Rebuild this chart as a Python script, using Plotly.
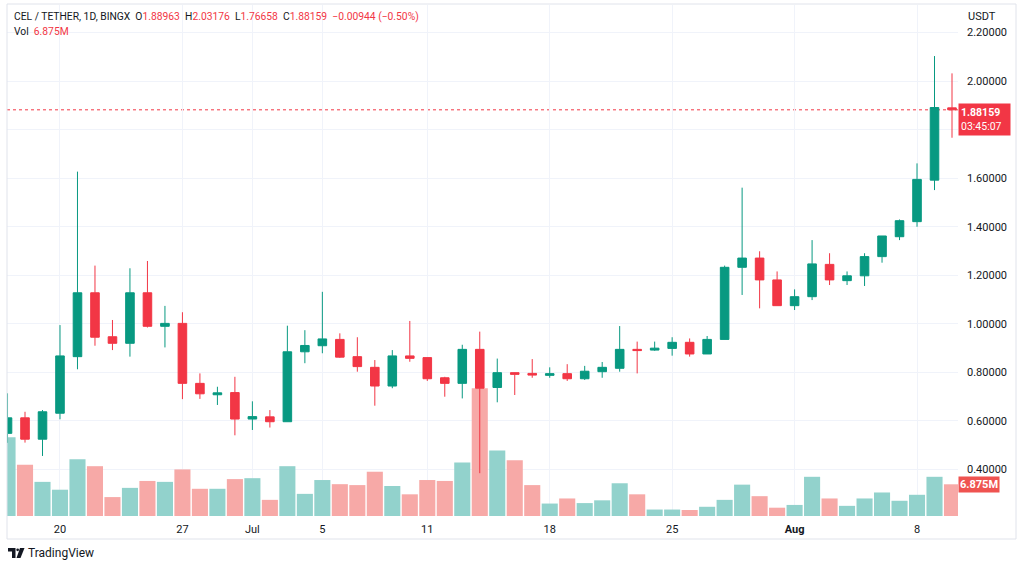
import plotly.graph_objects as go
import pandas as pd

# ---------------- data ----------------
dates = pd.date_range("2022-06-17", "2022-08-10", freq="D")

opens = [0.549, 0.613, 0.525, 0.632, 0.865, 1.128, 0.947, 0.920, 1.128, 0.990,
         1.002, 0.755, 0.708, 0.717, 0.608, 0.617, 0.597, 0.885, 0.910, 0.936,
         0.865, 0.821, 0.744, 0.868, 0.861, 0.778, 0.755, 0.895, 0.738, 0.799,
         0.796, 0.788, 0.795, 0.774, 0.803, 0.817, 0.895, 0.892, 0.899, 0.924,
         0.876, 0.936, 1.233, 1.271, 1.181, 1.075, 1.112, 1.245, 1.178, 1.198,
         1.277, 1.359, 1.421, 1.592, 1.88963]
highs = [0.714, 0.638, 0.645, 0.995, 1.627, 1.240, 1.016, 1.229, 1.259, 1.074,
         1.048, 0.796, 0.741, 0.782, 0.681, 0.645, 0.9925, 0.974, 1.132, 0.961,
         0.945, 0.851, 0.892, 1.012, 0.861, 0.782, 0.914, 0.968, 0.857, 0.800,
         0.855, 0.821, 0.834, 0.827, 0.843, 0.991, 0.927, 0.927, 0.945, 0.940,
         0.950, 1.240, 1.561, 1.299, 1.216, 1.142, 1.345, 1.291, 1.216, 1.291,
         1.362, 1.430, 1.661, 2.103, 2.03176]
lows = [0.510, 0.511, 0.456, 0.607, 0.813, 0.910, 0.892, 0.865, 0.985, 0.903,
        0.690, 0.691, 0.666, 0.541, 0.563, 0.573, 0.597, 0.838, 0.879, 0.860,
        0.803, 0.663, 0.735, 0.844, 0.765, 0.700, 0.693, 0.385, 0.677, 0.707,
        0.778, 0.778, 0.765, 0.769, 0.778, 0.803, 0.796, 0.889, 0.869, 0.865,
        0.876, 0.936, 1.119, 1.064, 1.075, 1.057, 1.098, 1.160, 1.160, 1.156,
        1.252, 1.345, 1.400, 1.551, 1.76658]
closes = [0.613, 0.525, 0.638, 0.868, 1.128, 0.945, 0.920, 1.128, 0.990, 1.002,
          0.755, 0.712, 0.716, 0.608, 0.618, 0.597, 0.885, 0.911, 0.938, 0.863,
          0.824, 0.744, 0.868, 0.858, 0.774, 0.755, 0.895, 0.735, 0.799, 0.792,
          0.789, 0.795, 0.774, 0.805, 0.821, 0.895, 0.890, 0.900, 0.924, 0.876,
          0.936, 1.233, 1.271, 1.181, 1.075, 1.112, 1.247, 1.181, 1.198, 1.277,
          1.362, 1.425, 1.595, 1.89103, 1.88159]
volume_millions = [17.1, 11.1, 7.4, 5.7, 12.3, 10.8, 4.1, 6.1, 7.6, 7.4,
                   10.1, 5.9, 5.9, 8.0, 8.2, 3.5, 10.8, 4.8, 7.8, 6.9,
                   6.7, 9.6, 6.5, 4.7, 7.8, 7.6, 11.6, 27.7, 14.2, 12.1,
                   6.7, 2.7, 3.8, 2.8, 3.4, 7.1, 4.7, 1.4, 1.4, 1.3,
                   2.0, 3.5, 6.8, 4.3, 1.8, 2.4, 8.5, 3.8, 2.2, 3.8,
                   5.1, 3.3, 4.6, 8.5, 6.875]

price_ticks = [0.4, 0.6, 0.8, 1.0, 1.2, 1.4, 1.6, 1.8, 2.0, 2.2]
date_tick_vals = ["2022-06-20", "2022-06-27", "2022-07-01", "2022-07-05", "2022-07-11",
                  "2022-07-18", "2022-07-25", "2022-08-01", "2022-08-08"]
date_tick_text = ["20", "27", "Jul", "5", "11", "18", "25", "<b>Aug</b>", "8"]

# ---------------- styling ----------------
UP, DOWN = "#089981", "#F23645"
VUP, VDOWN = "#92D2CC", "#F7A9A7"
TXT = "#131722"
GRID = "#F0F3FA"
FONT = "Roboto"

W, H = 1024, 564
PL, PR, PT, PB = 7, 958, 5, 516  # plot area in pixels


def px2x(px):
    return (px - PL) / (PR - PL)


def px2y(py):
    return (PB - py) / (PB - PT)


volumes = [v * 1e6 for v in volume_millions]
vol_colors = [VUP if c >= o else VDOWN for o, c in zip(opens, closes)]

fig = go.Figure()
fig.add_trace(go.Bar(x=dates, y=volumes, marker=dict(color=vol_colors, line=dict(width=0)),
                     yaxis="y", hoverinfo="skip", showlegend=False))
fig.add_trace(go.Candlestick(
    x=dates, open=opens, high=highs, low=lows, close=closes, yaxis="y2",
    increasing=dict(line=dict(color=UP, width=1), fillcolor=UP),
    decreasing=dict(line=dict(color=DOWN, width=1), fillcolor=DOWN),
    whiskerwidth=0, showlegend=False))

last_o, last_h, last_l, last_c = opens[-1], highs[-1], lows[-1], closes[-1]
chg = last_c - closes[-2]
pct = chg / closes[-2] * 100


def sgn(v, fmt):
    s = format(abs(v), fmt)
    return ("\u2212" if v < 0 else "+") + s


red = lambda s: f"<span style='color:{DOWN}'>{s}</span>"
GAP = "\u00a0\u00a0"
header = ("CEL / TETHER, 1D, BINGX" + GAP + "O" + red(f"{last_o:.5f}") + GAP + "H" + red(f"{last_h:.5f}")
          + GAP + "L" + red(f"{last_l:.5f}") + GAP + "C" + red(f"{last_c:.5f}") + GAP
          + red(f"{sgn(chg, '.5f')} ({sgn(pct, '.2f')}%)"))

annotations = [
    dict(text=header, xref="paper", yref="paper", x=px2x(12), y=px2y(16), xanchor="left",
         yanchor="middle", showarrow=False, font=dict(family=FONT, size=10.3, color=TXT)),
    dict(text="Vol" + GAP + red(f"{volume_millions[-1]:.3f}M"), xref="paper", yref="paper",
         x=px2x(12), y=px2y(31), xanchor="left", yanchor="middle", showarrow=False,
         font=dict(family=FONT, size=10.3, color=TXT)),
    dict(text="USDT", xref="paper", yref="paper", x=px2x(966), y=px2y(16), xanchor="left",
         yanchor="middle", showarrow=False, font=dict(family=FONT, size=11, color=TXT)),
    dict(text=f"<b>{last_c:.5f}</b><br>03:45:07", xref="paper", yref="y2", x=px2x(958),
         y=last_c, xanchor="left", yanchor="top", yshift=7, showarrow=False, align="left",
         width=47, bgcolor=DOWN, borderpad=2,
         font=dict(family=FONT, size=10.5, color="white")),
    dict(text=f"<b>{volume_millions[-1]:.3f}M</b>", xref="paper", yref="y", x=px2x(958),
         y=volumes[-1], xanchor="left", yanchor="middle", showarrow=False, align="left",
         bgcolor="#EF5350", borderpad=1, font=dict(family=FONT, size=11, color="white")),
    dict(text="TradingView", xref="paper", yref="paper", x=px2x(26), y=px2y(553),
         xanchor="left", yanchor="middle", showarrow=False,
         font=dict(family=FONT, size=12, color=TXT)),
]

shapes = [
    # last price dotted line
    dict(type="line", xref="paper", yref="y2", x0=0, x1=1, y0=last_c, y1=last_c,
         line=dict(color=DOWN, width=1, dash="dot"), layer="below"),
    # chart frame
    dict(type="rect", xref="paper", yref="paper", x0=px2x(7), x1=px2x(1016),
         y0=px2y(539), y1=px2y(4), line=dict(color="#E0E3EB", width=1)),
    # TradingView logo (approximation)
    dict(type="path", xref="paper", yref="paper", fillcolor=TXT, line=dict(width=0),
         path=f"M {px2x(8)} {px2y(548)} L {px2x(15.5)} {px2y(548)} L {px2x(15.5)} {px2y(558)} "
              f"L {px2x(12)} {px2y(558)} L {px2x(12)} {px2y(551.5)} L {px2x(8)} {px2y(551.5)} Z"),
    dict(type="circle", xref="paper", yref="paper", fillcolor=TXT, line=dict(width=0),
         x0=px2x(16.3), x1=px2x(19), y0=px2y(551.2), y1=px2y(548.5)),
    dict(type="path", xref="paper", yref="paper", fillcolor=TXT, line=dict(width=0),
         path=f"M {px2x(20)} {px2y(548)} L {px2x(24.5)} {px2y(548)} L {px2x(20.5)} {px2y(558)} "
              f"L {px2x(16.5)} {px2y(558)} Z"),
]

fig.update_layout(
    width=W, height=H,
    margin=dict(l=PL, r=W - PR, t=PT, b=H - PB),
    paper_bgcolor="white", plot_bgcolor="white",
    showlegend=False, bargap=0.08, boxgap=0.3,
    font=dict(family=FONT, size=11, color=TXT),
    xaxis=dict(type="date", range=["2022-06-16 23:17", "2022-08-10 08:14"],
               tickvals=date_tick_vals, ticktext=date_tick_text, tickangle=0,
               showgrid=True, gridcolor=GRID, gridwidth=1, zeroline=False,
               showline=False, ticks="outside", ticklen=3, tickcolor="rgba(0,0,0,0)",
               rangeslider=dict(visible=False),
               tickfont=dict(family=FONT, size=11, color=TXT)),
    yaxis=dict(range=[0, 110.8e6], visible=False, showgrid=False, zeroline=False),
    yaxis2=dict(overlaying="y", side="right", anchor="x", range=[0.2087, 2.3133],
                tickvals=price_ticks, tickformat=".5f", showgrid=True, gridcolor=GRID,
                gridwidth=1, zeroline=False, showline=False, ticks="",
                ticklabelstandoff=8, tickfont=dict(family=FONT, size=11, color=TXT)),
    annotations=annotations, shapes=shapes,
)

fig.write_html("out.html", config={"displayModeBar": False},
               post_script="document.body.style.margin='0';document.body.style.overflow='hidden';")
